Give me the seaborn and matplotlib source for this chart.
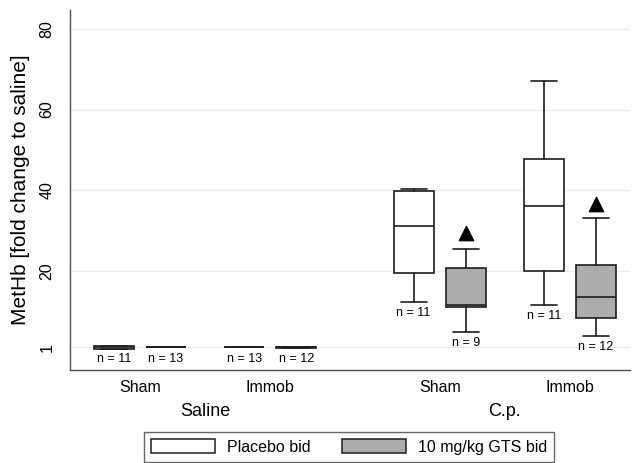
#/usr/bin/env python3

import numpy as np
import pandas as pd
import seaborn as sns
import matplotlib.pyplot as plt
from matplotlib.patches import Patch

# categories (Saline / C.p. x Sham / Immob)
groups = ['Saline', 'C.p.']
conditions = ['Sham', 'Immob', 'Sham', 'Immob']
cat_pos = [0, 1, 2.3, 3.3]

# box stats (placebo bid)
placebo_whislo = [0.7, 1.0, 12.3, 11.5]
placebo_q1 = [0.6, 1.0, 19.4, 20.0]
placebo_med = [1.0, 1.0, 31.2, 36.1]
placebo_q3 = [1.4, 1.0, 39.9, 47.7]
placebo_whishi = [1.4, 1.0, 40.3, 67.1]
placebo_n = [11, 13, 11, 11]

# box stats (10 mg/kg GTS bid)
gts_whislo = [1.0, 0.8, 4.9, 3.9]
gts_q1 = [1.0, 0.8, 11.0, 8.3]
gts_med = [1.0, 1.0, 11.6, 13.4]
gts_q3 = [1.0, 1.2, 20.8, 21.5]
gts_whishi = [1.0, 1.2, 25.5, 33.0]
gts_n = [13, 12, 9, 12]

# significance triangles over GTS boxes (C.p. only)
sig_pos = [2.3, 3.3]
sig_y = [29.4, 36.7]

yticks = [1, 20, 40, 60, 80]

sns.set_style('white')
plt.rcParams['font.family'] = ['Liberation Sans', 'DejaVu Sans']
plt.rcParams['text.color'] = 'black'
plt.rcParams['axes.labelcolor'] = 'black'
plt.rcParams['xtick.color'] = 'black'
plt.rcParams['ytick.color'] = 'black'

fig = plt.figure(figsize=(6.36, 4.63), dpi=100)
ax = fig.add_axes([70/636, 1-370/463, 560/636, 360/463])

line_col = '#1e1e1e'
gray = '#acacac'
off = 0.2
w = 0.307

def make_stats(lo, q1, med, q3, hi):
    return [dict(whislo=a, q1=b, med=c, q3=d, whishi=e, fliers=[])
            for a, b, c, d, e in zip(lo, q1, med, q3, hi)]

common = dict(widths=w, patch_artist=True, showfliers=False, capwidths=0.2,
              whiskerprops=dict(color=line_col, lw=1.2),
              capprops=dict(color=line_col, lw=1.2),
              medianprops=dict(color=line_col, lw=1.2))

pl_x = [p - off for p in cat_pos]
gt_x = [p + off for p in cat_pos]
ax.bxp(make_stats(placebo_whislo, placebo_q1, placebo_med, placebo_q3, placebo_whishi),
       positions=pl_x, boxprops=dict(facecolor='white', edgecolor=line_col, lw=1.2), **common)
ax.bxp(make_stats(gts_whislo, gts_q1, gts_med, gts_q3, gts_whishi),
       positions=gt_x, boxprops=dict(facecolor=gray, edgecolor=line_col, lw=1.2), **common)

# triangles
sig = pd.DataFrame({'x': [p + off for p in sig_pos], 'y': sig_y})
sns.scatterplot(data=sig, x='x', y='y', marker='^', s=110, color='black',
                edgecolor='black', ax=ax, zorder=5)

# n labels
for x, lo, n in zip(pl_x, placebo_whislo, placebo_n):
    ax.annotate('n = %d' % n, (x, max(lo, 1.0)), xytext=(0, -8), textcoords='offset points',
                ha='center', va='center', fontsize=9)
for x, lo, n in zip(gt_x, gts_whislo, gts_n):
    ax.annotate('n = %d' % n, (x, lo if lo > 2 else 1.0), xytext=(0, -8),
                textcoords='offset points', ha='center', va='center', fontsize=9)

ax.set_xlim(-0.537, 3.76)
ax.set_ylim(-4.6, 84.7)
ax.set_xticks(cat_pos)
ax.set_xticklabels(conditions, fontsize=11.5)
ax.tick_params(axis='x', length=0, pad=7)
ax.set_yticks(yticks)
ax.set_yticklabels([str(t) for t in yticks], rotation=90, va='center', fontsize=11.5)
ax.tick_params(axis='y', length=7, width=0.9, color='#404040', pad=4)
ax.yaxis.grid(True, color='#e6eef1', lw=1)
ax.set_axisbelow(True)
ax.set_xlabel('')
ax.set_ylabel('MetHb [fold change to saline]', fontsize=15, labelpad=7)
for s in ['top', 'right']:
    ax.spines[s].set_visible(False)
for s in ['left', 'bottom']:
    ax.spines[s].set_color('#505050')
    ax.spines[s].set_linewidth(1.0)

# group labels
for g, x in zip(groups, [(cat_pos[0]+cat_pos[1])/2, (cat_pos[2]+cat_pos[3])/2]):
    ax.text(x, -0.115, g, transform=ax.get_xaxis_transform(), ha='center',
            va='center', fontsize=13)

handles = [Patch(facecolor='white', edgecolor=line_col, lw=1.1, label='Placebo bid'),
           Patch(facecolor=gray, edgecolor=line_col, lw=1.1, label='10 mg/kg GTS bid')]
leg = fig.legend(handles=handles, loc='upper center', bbox_to_anchor=(349/636, 1-432/463),
                 ncol=2, fontsize=11.5, fancybox=False, edgecolor='#404040',
                 handlelength=4, handleheight=1.0, handletextpad=0.75,
                 columnspacing=2.0, borderpad=0.45, borderaxespad=0)
leg.get_frame().set_linewidth(1.0)

plt.savefig('out.png', dpi=100)
